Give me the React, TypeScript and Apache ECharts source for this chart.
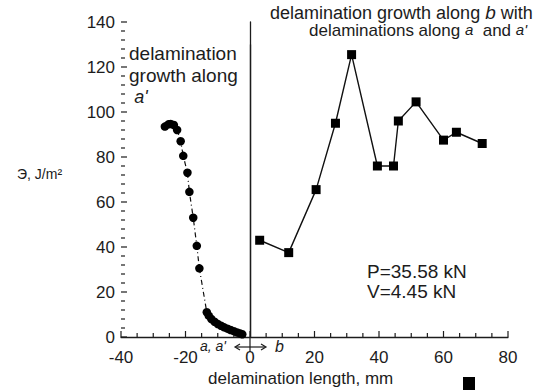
import React, { useEffect, useRef } from "react";
import * as echarts from "echarts";

// Delamination growth along a' (circles)
const alongAPrime: [number, number][] = [
  [-26.4, 93.5], [-25.3, 94.5], [-24.6, 94.7], [-23.6, 94.2], [-22.6, 92],
  [-21.5, 87], [-20.7, 80.5], [-19.4, 73], [-18.8, 64.5], [-17.6, 53],
  [-16.5, 40.5], [-15.7, 30.5], [-13.4, 11], [-12.8, 9.5], [-12, 8],
  [-11, 6.8], [-10, 5.8], [-9, 5], [-8, 4.3], [-7, 3.7], [-6, 3.1],
  [-5, 2.6], [-4, 2], [-3, 1.5], [-2.4, 1.2],
];

// Delamination growth along b (squares)
const alongB: [number, number][] = [
  [3, 43], [12, 37.5], [20.5, 65.5], [26.5, 95], [31.5, 125.5], [39.5, 76],
  [44.5, 76], [46, 96], [51.5, 104.5], [60, 87.5], [64, 91], [72, 86],
];

const xRange = [-40, 80];
const yRange = [0, 140];
const xMajor = 20;
const xMinor = 5;
const yMajor = 20;
const yMinor = 4;
const dividerX = 0;
const dividerTop = 130;

const FONT = "'Liberation Sans', Arial, sans-serif";
const INK = "#1c1c1c";

// tick marks (axis decoration), positioned through the axes' own scales
const tickItems: [number, number][] = [];
for (let v = xRange[0]; v <= xRange[1]; v += xMinor) tickItems.push([v, 0]);
for (let v = yRange[0]; v <= yRange[1]; v += yMinor) tickItems.push([v, 1]);

export default function App() {
  const ref = useRef<HTMLDivElement>(null);
  useEffect(() => {
    if (!ref.current) return;
    const chart = echarts.init(ref.current, undefined, { renderer: "svg" });
    chart.setOption({
      animation: false,
      backgroundColor: "#ffffff",
      grid: { left: 121, right: 44, top: 22, bottom: 53 },
      xAxis: {
        type: "value",
        min: xRange[0],
        max: xRange[1],
        interval: xMajor,
        axisLine: { show: true, onZero: false, lineStyle: { color: INK, width: 1.3 } },
        axisTick: { show: false },
        splitLine: { show: false },
        axisLabel: { color: INK, fontSize: 17, fontFamily: FONT, margin: 12 },
      },
      yAxis: {
        type: "value",
        min: yRange[0],
        max: yRange[1],
        interval: yMajor,
        axisLine: { show: true, lineStyle: { color: INK, width: 1.3 } },
        axisTick: { show: false },
        splitLine: { show: false },
        axisLabel: { color: INK, fontSize: 17, fontFamily: FONT, margin: 6 },
      },
      series: [
        {
          type: "custom",
          silent: true,
          clip: false,
          data: tickItems,
          encode: { x: 0, y: 1 },
          renderItem: (params: any, api: any) => {
            const v = api.value(0);
            const isY = api.value(1) === 1;
            if (!isY) {
              const p = api.coord([v, yRange[0]]);
              const len = v % xMajor === 0 ? 6 : 4;
              return {
                type: "line",
                shape: { x1: p[0], y1: p[1], x2: p[0], y2: p[1] - len },
                style: { stroke: INK, lineWidth: 1.2 },
              };
            }
            const p = api.coord([xRange[0], v]);
            const len = v % yMajor === 0 ? 6 : 4;
            return {
              type: "line",
              shape: { x1: p[0], y1: p[1], x2: p[0] + len, y2: p[1] },
              style: { stroke: INK, lineWidth: 1.2 },
            };
          },
        },
        {
          type: "line",
          data: alongAPrime,
          symbol: "circle",
          symbolSize: 8.5,
          itemStyle: { color: "#000" },
          lineStyle: { color: "#111", width: 1.2, type: [5, 3, 1, 3] },
        },
        {
          type: "line",
          data: alongB,
          symbol: "rect",
          symbolSize: 9,
          itemStyle: { color: "#000" },
          lineStyle: { color: "#111", width: 1.4 },
          markLine: {
            silent: true,
            symbol: "none",
            label: { show: false },
            lineStyle: { color: INK, width: 1.3, type: "solid" },
            data: [[{ coord: [dividerX, 0] }, { coord: [dividerX, dividerTop] }]],
          },
        },
      ],
      graphic: [
        {
          type: "text",
          left: 129,
          top: 42,
          style: {
            text: "delamination\ngrowth along\n {i|a'}",
            font: `19px ${FONT}`,
            lineHeight: 22,
            fill: INK,
            rich: { i: { fontStyle: "italic", fontSize: 18, fontFamily: FONT, fill: INK, lineHeight: 22 } },
          },
        },
        {
          type: "text",
          left: 270,
          top: 3,
          style: {
            text: "delamination growth along {i|b} with",
            font: `18px ${FONT}`,
            lineHeight: 18,
            fill: INK,
            rich: { i: { fontStyle: "italic", fontSize: 19, fontFamily: FONT, fill: INK, lineHeight: 18 } },
          },
        },
        {
          type: "text",
          left: 309,
          top: 22,
          style: {
            text: "delaminations along {s|a}  and {s|a'}",
            font: `17px ${FONT}`,
            lineHeight: 17,
            fill: INK,
            rich: {
              s: { fontStyle: "italic", fontSize: 15, fontFamily: FONT, fill: INK, lineHeight: 17, verticalAlign: "top" },
            },
          },
        },
        {
          type: "text",
          left: 367,
          top: 261,
          style: {
            text: "P=35.58 kN\nV=4.45 kN",
            font: `19px ${FONT}`,
            lineHeight: 20,
            fill: INK,
          },
        },
        {
          type: "text",
          left: 17,
          top: 167,
          style: {
            text: "Э, J/m²",
            font: `14px ${FONT}`,
            fill: INK,
          },
        },
        {
          type: "text",
          left: 200,
          top: 339,
          style: {
            text: "a, a'",
            font: `italic 14px ${FONT}`,
            fill: INK,
          },
        },
        {
          type: "text",
          left: 275,
          top: 338,
          style: {
            text: "b",
            font: `italic 16px ${FONT}`,
            fill: INK,
          },
        },
        {
          type: "line",
          shape: { x1: 236, y1: 347, x2: 265, y2: 347 },
          style: { stroke: INK, lineWidth: 1.2 },
        },
        {
          type: "polyline",
          shape: { points: [[240, 344], [235, 347], [240, 350]] },
          style: { stroke: INK, lineWidth: 1.2, fill: null },
        },
        {
          type: "polyline",
          shape: { points: [[261, 344], [266, 347], [261, 350]] },
          style: { stroke: INK, lineWidth: 1.2, fill: null },
        },
        {
          type: "line",
          shape: { x1: 250, y1: 337, x2: 250, y2: 352 },
          style: { stroke: INK, lineWidth: 1.2 },
        },
        {
          type: "text",
          left: 208,
          top: 370,
          style: {
            text: "delamination length, mm",
            font: `17px ${FONT}`,
            fill: INK,
          },
        },
        {
          type: "rect",
          shape: { x: 463, y: 377, width: 12, height: 14 },
          style: { fill: "#000" },
        },
      ],
    });
    return () => chart.dispose();
  }, []);
  return (
    <div
      ref={ref}
      style={{ position: "fixed", left: 0, top: 0, width: 552, height: 390, background: "#fff" }}
    />
  );
}
